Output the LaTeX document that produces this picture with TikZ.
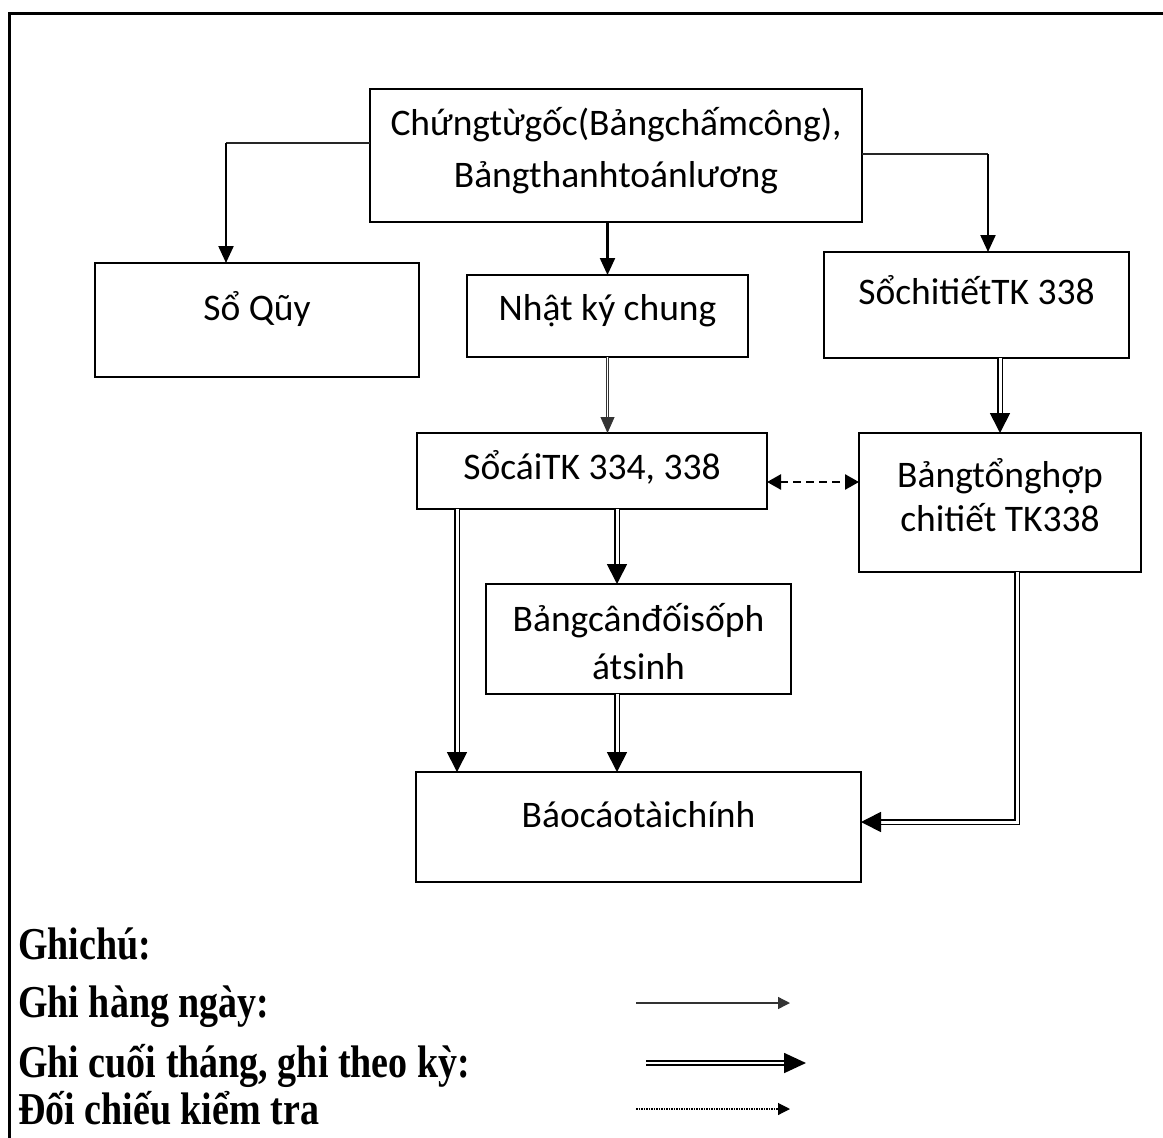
\documentclass[tikz,border=0pt]{standalone}
\usepackage{fontspec}
\setmainfont{Liberation Serif}
\newfontfamily\boxfont{Carlito}
\usetikzlibrary{arrows.meta,calc}
\tikzset{
  box/.style={draw, line width=2.7pt, inner sep=0pt, outer sep=0pt},
  btxt/.style={anchor=base, inner sep=0pt, font=\boxfont\fontsize{37.5}{44}\selectfont},
  ltxt/.style={anchor=base west, inner sep=0pt, font=\bfseries\fontsize{38}{44}\selectfont},
  thinln/.style={line width=1.2pt, draw=black!85},
  thinarr/.style={line width=2.2pt, -{Triangle[length=17pt,width=15pt]}},
  dblarr/.style={double, line width=1.7pt, double distance=3pt, line join=miter,
                 -{Triangle[length=20pt,width=20pt]}},
  lightdbl/.style={double, line width=0.8pt, double distance=1.2pt, draw=black!80,
                 -{Triangle[length=16pt,width=14pt]}},
  dasharr/.style={line width=2.5pt, dash pattern=on 8pt off 5pt,
                 {Triangle[length=14pt,width=15pt]}-{Triangle[length=14pt,width=15pt]}},
}
\newcommand{\tallb}[1]{\scalebox{1}[1.2]{#1}}
\begin{document}
\begin{tikzpicture}[x=1pt,y=-1pt]
\useasboundingbox (0,0) rectangle (1163,1138);
\fill[white] (0,0) rectangle (1163,1138);
% outer frame
\draw[line width=2.8pt] (9.5,1140) -- (9.5,13.7) -- (1165,13.7);

% boxes
\node[box, minimum width=492, minimum height=133] (top)   at (616,155.5) {};
\node[box, minimum width=324, minimum height=114] (quy)   at (257,320) {};
\node[box, minimum width=281, minimum height=82]  (nkc)   at (607.5,316) {};
\node[box, minimum width=305, minimum height=106] (sct)   at (976.5,305) {};
\node[box, minimum width=350, minimum height=76]  (socai) at (592,471) {};
\node[box, minimum width=282, minimum height=139] (bth)   at (1000,502.5) {};
\node[box, minimum width=305, minimum height=110] (bcd)   at (638.5,639) {};
\node[box, minimum width=445, minimum height=110] (bcao)  at (638.5,827) {};

% box texts
\node[btxt] (t1a) at (616,135) {Chứngtừgốc(Bảngchấmcông),};
\node[btxt] (t1b) at (616,187) {Bảngthanhtoánlương};
\node[btxt] (t2)  at (257,320) {Sổ Qũy};
\node[btxt] (t3)  at (607.5,320) {Nhật ký chung};
\node[btxt] (t4)  at (976.5,304) {SổchitiếtTK 338};
\node[btxt] (t5)  at (592,479) {SổcáiTK 334, 338};
\node[btxt] (t6a) at (1000,487) {Bảngtổnghợp};
\node[btxt] (t6b) at (1000,531) {chitiết TK338};
\node[btxt] (t7a) at (638.5,631) {Bảngcânđốisốph};
\node[btxt] (t7b) at (638.5,679) {átsinh};
\node[btxt] (t8)  at (638.5,827) {Báocáotàichính};

% helper coordinates
\coordinate (k1) at (226,143);
\coordinate (k2) at (988,154);
\coordinate (d1) at (0,482);
\coordinate (e1) at (457,0);
\coordinate (e2) at (617,0);
\coordinate (f1) at (1017,822);

% connectors
\draw[thinln] (top.west |- k1) -- (k1);
\draw[thinarr] (k1) -- (k1 |- quy.north);
\draw[thinln] (top.east |- k2) -- (k2);
\draw[thinarr] (k2) -- (k2 |- sct.north);
\draw[thinarr] (top.south -| nkc.north) -- (nkc.north);
\draw[lightdbl] (nkc.south) -- (nkc.south |- socai.north);
\draw[dblarr] (sct.south -| bth.north) -- (bth.north);
\draw[dasharr] (socai.east |- d1) -- (bth.west |- d1);
\draw[dblarr] (socai.south -| e1) -- (bcao.north -| e1);
\draw[dblarr] (socai.south -| e2) -- (bcd.north -| e2);
\draw[dblarr] (bcd.south -| e2) -- (bcao.north -| e2);
\draw[dblarr] (bth.south -| f1) -- (f1) -- (bcao.east |- f1);

% legend
\node[ltxt] (g0) at (18,959)  {\tallb{Ghichú:}};
\node[ltxt] (g1) at (18,1017) {\tallb{Ghi hàng ngày:}};
\node[ltxt] (g2) at (18,1077) {\tallb{Ghi cuối tháng, ghi theo kỳ:}};
\node[ltxt] (g3) at (18,1124) {\tallb{Đối chiếu kiểm tra}};
\coordinate (l1a) at (636,1003);
\coordinate (l1b) at (790,1003);
\coordinate (l2a) at (646,1063);
\coordinate (l2b) at (806,1063);
\coordinate (l3a) at (636,1109);
\coordinate (l3b) at (790,1109);
\draw[line width=1.4pt, draw=black!80, -{Triangle[length=12pt,width=12pt]}] (l1a) -- (l1b);
\draw[double, line width=1.8pt, double distance=2.4pt, -{Triangle[length=22pt,width=20pt]}] (l2a) -- (l2b);
\draw[line width=1.1pt, dash pattern=on 1.5pt off 1pt, -{Triangle[length=12pt,width=12pt]}] (l3a) -- (l3b);
\end{tikzpicture}
\end{document}
